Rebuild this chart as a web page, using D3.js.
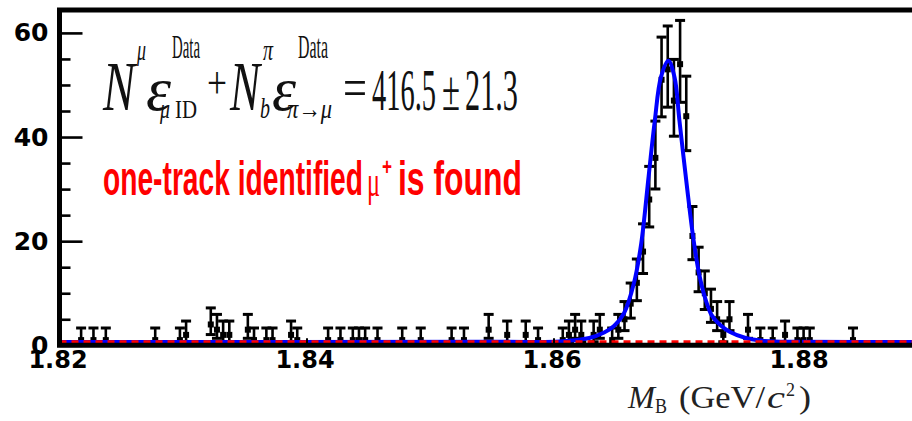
<!DOCTYPE html>
<html>
<head>
<meta charset="utf-8">
<script src="https://cdn.jsdelivr.net/npm/d3@7"></script>
<style>
  html, body { margin: 0; padding: 0; background: #ffffff; }
  svg { display: block; }
</style>
</head>
<body>
<svg id="chart" width="912" height="421"></svg>
<script>
// Beam-constrained mass: centres (GeV/c^2) of the non-empty 0.5 MeV bins and their entries
const binCenters = [
  1.82175, 1.82275, 1.82375, 1.82775, 1.82975, 1.83025, 1.83225, 1.83275, 1.83325, 1.83375,
  1.83525, 1.83575, 1.83675, 1.83725, 1.83875, 1.83925, 1.84175, 1.84275, 1.84375, 1.84425,
  1.84475, 1.84575, 1.84775, 1.84925, 1.85175, 1.85275, 1.85475, 1.85625, 1.85775, 1.85875,
  1.86075, 1.86125, 1.86175, 1.86225, 1.86325, 1.86375, 1.86475, 1.86525, 1.86575, 1.86625,
  1.86675, 1.86725, 1.86775, 1.86825, 1.86875, 1.86925, 1.86975, 1.87025, 1.87075, 1.87125,
  1.87175, 1.87225, 1.87275, 1.87325, 1.87375, 1.87425, 1.87575, 1.87675, 1.87775, 1.87875,
  1.87975, 1.88025, 1.88075, 1.88425
];
const entries = [
  1, 1, 1, 1, 1, 2, 4, 3, 2, 2,
  3, 1, 1, 1, 2, 1, 1, 1, 1, 1,
  1, 1, 1, 1, 1, 1, 3, 2, 2, 1,
  1, 2, 3, 2, 2, 3, 1, 3, 5, 8,
  12, 18, 28, 36, 51, 53, 47, 54, 44, 21,
  14, 10, 7, 5, 2, 5, 3, 1, 1, 2,
  1, 1, 1, 1
];

// Total fit (signal + flat background), entries per bin at selected masses
const fitMass = [
  1.8200, 1.8556, 1.8605, 1.8629, 1.8641, 1.8649, 1.8657, 1.8665, 1.8671, 1.8677,
  1.8682, 1.8687, 1.8693, 1.8698, 1.8702, 1.8708, 1.8713, 1.8718, 1.8723, 1.8728,
  1.8735, 1.8743, 1.8755, 1.8771, 1.8798, 1.8900
];
const fitValue = [
  0.65, 0.68, 0.73, 1.4, 2.45, 3.7, 6.1, 11.8, 19.5, 32.4,
  43.1, 51.5, 54.65, 51.5, 43.1, 30.6, 20.9, 13.6, 8.9, 5.8,
  3.9, 2.55, 1.45, 0.84, 0.66, 0.65
];
// Background component of the fit
const bkgMass = [1.82, 1.89];
const bkgValue = [0.65, 0.65];

const xTickValues = [1.82, 1.84, 1.86, 1.88];
const xTickLabels = ["1.82", "1.84", "1.86", "1.88"];
const yMajorTicks = [0, 20, 40, 60];
const yTickLabels = ["0", "20", "40", "60"];
const yMinorTicks = [5, 10, 15, 25, 30, 35, 45, 50, 55];

const svg = d3.select("#chart");

const x = d3.scaleLinear().domain([1.82, 1.89]).range([59.5, 924]);
const y = d3.scaleLinear().domain([0, 64.4]).range([345.3, 10]);

// Poisson (approximate Garwood) interval for a count n
const lowErr = n => n - Math.sqrt(n - 0.25);
const highErr = n => n + 1 + Math.sqrt(n + 0.75);

const bins = binCenters.map((m, i) => ({ m, n: entries[i] }));

// ---- error bars and markers
const pts = svg.append("g").attr("class", "data");
const capHalf = 5;
bins.forEach(d => {
  const cx = x(d.m);
  const yl = y(lowErr(d.n)), yh = y(highErr(d.n));
  pts.append("line").attr("x1", cx).attr("x2", cx).attr("y1", yl).attr("y2", yh)
    .attr("stroke", "#000").attr("stroke-width", 2.6);
  [yl, yh].forEach(yy => pts.append("line")
    .attr("x1", cx - capHalf).attr("x2", cx + capHalf).attr("y1", yy).attr("y2", yy)
    .attr("stroke", "#000").attr("stroke-width", 3));
  pts.append("rect").attr("x", cx - 3).attr("y", y(d.n) - 3)
    .attr("width", 6).attr("height", 6).attr("fill", "#000");
});

// ---- fit curves
const fitLine = d3.line()
  .x((d, i) => x(fitMass[i]))
  .y((d, i) => y(fitValue[i]))
  .curve(d3.curveCatmullRom.alpha(0.5));
svg.append("path").attr("d", fitLine(fitMass))
  .attr("fill", "none").attr("stroke", "#0000ff").attr("stroke-width", 4);

const bkgLine = d3.line()
  .x((d, i) => x(bkgMass[i]))
  .y((d, i) => y(bkgValue[i]));
svg.append("path").attr("d", bkgLine(bkgMass))
  .attr("fill", "none").attr("stroke", "#ff0000").attr("stroke-width", 3.5)
  .attr("stroke-dasharray", "7,5");

// ---- frame
svg.append("path")
  .attr("d", `M${x(1.89) + 10},${y(64.4)} H${x(1.82)} V${y(0)} H${x(1.89) + 10}`)
  .attr("fill", "none").attr("stroke", "#000").attr("stroke-width", 5);

// ---- y axis
const yMajor = d3.axisLeft(y).tickValues(yMajorTicks)
  .tickFormat((d, i) => yTickLabels[i]).tickSize(-23).tickPadding(11);
const gy = svg.append("g").attr("transform", `translate(${x(1.82)},0)`).call(yMajor);
const yMinor = d3.axisLeft(y).tickValues(yMinorTicks).tickFormat("").tickSize(-11);
const gy2 = svg.append("g").attr("transform", `translate(${x(1.82)},0)`).call(yMinor);
[gy, gy2].forEach(g => {
  g.select(".domain").remove();
  g.selectAll(".tick line").attr("stroke", "#000").attr("stroke-width", 2.6);
});
gy.selectAll(".tick text")
  .attr("fill", "#000")
  .style("font-family", "'DejaVu Sans', sans-serif")
  .style("font-weight", "bold").style("font-size", "25px");

// ---- x axis
const xAxis = d3.axisBottom(x).tickValues(xTickValues)
  .tickFormat((d, i) => xTickLabels[i]).tickSize(-7).tickPadding(6);
const gx = svg.append("g").attr("transform", `translate(0,${y(0)})`).call(xAxis);
gx.select(".domain").remove();
gx.selectAll(".tick line").attr("stroke", "#000").attr("stroke-width", 2);
gx.selectAll(".tick text")
  .attr("fill", "#000").attr("dx", "-2")
  .style("font-family", "'DejaVu Sans', sans-serif")
  .style("font-weight", "bold").style("font-size", "24px");

// Writes a run of absolutely placed, width-fitted pieces into one <text>
function placePieces(textSel, parts) {
  parts.forEach(p => {
    const ts = textSel.append("tspan").attr("x", p.x).attr("y", p.y)
      .attr("textLength", p.w).attr("lengthAdjust", "spacingAndGlyphs")
      .style("font-size", p.s + "px").text(p.t);
    if (p.it) ts.style("font-style", "italic");
    if (p.f) ts.style("font-family", p.f);
    if (p.b) ts.style("font-weight", "bold");
  });
}

const serif = "'Liberation Serif', 'Times New Roman', serif";
const sans = "'Liberation Sans', Arial, sans-serif";

// ---- axis title  M_B (GeV/c^2)
const titleParts = [
  { t: "M", x: 628, y: 408, s: 31, w: 27, it: true },
  { t: "B", x: 655, y: 413, s: 21, w: 12 },
  { t: "(GeV/", x: 679, y: 408, s: 31, w: 86 },
  { t: "c", x: 767, y: 408, s: 31, w: 18, it: true },
  { t: "2", x: 786, y: 396, s: 19, w: 9 },
  { t: ")", x: 799, y: 408, s: 31, w: 12 }
];
placePieces(svg.append("text").attr("fill", "#222").style("font-family", serif), titleParts);

// ---- yield formula
const formulaParts = [
  { t: "N",     x: 103, y: 110, s: 70, w: 32, it: true },
  { t: "\u03bc", x: 137, y: 60,  s: 30, w: 9,  it: true },
  { t: "\u03b5", x: 146, y: 110, s: 62, w: 25, it: true },
  { t: "Data",  x: 172, y: 58,  s: 33, w: 28 },
  { t: "\u03bc", x: 160, y: 118, s: 27, w: 10, it: true },
  { t: "ID",    x: 175, y: 118, s: 26, w: 22 },
  { t: "+",     x: 207, y: 98,  s: 46, w: 20 },
  { t: "N",     x: 230, y: 110, s: 70, w: 30, it: true },
  { t: "\u03c0", x: 263, y: 60,  s: 30, w: 10, it: true },
  { t: "b",     x: 260, y: 118, s: 30, w: 10, it: true },
  { t: "\u03b5", x: 272, y: 110, s: 62, w: 24, it: true },
  { t: "Data",  x: 298, y: 58,  s: 33, w: 30 },
  { t: "\u03c0\u2192\u03bc", x: 287, y: 118, s: 27, w: 45, it: true },
  { t: "=",     x: 343, y: 107, s: 56, w: 24 },
  { t: "416.5", x: 372, y: 110, s: 60, w: 64 },
  { t: "\u00b1", x: 442, y: 110, s: 58, w: 18 },
  { t: "21.3",  x: 465, y: 110, s: 60, w: 53 }
];
placePieces(svg.append("text").attr("fill", "#111").style("font-family", serif), formulaParts);

// ---- red caption
const captionParts = [
  { t: "one-track identified", x: 103, y: 195, s: 48, w: 260, b: true },
  { t: "\u03bc", x: 367, y: 196, s: 44, w: 13, f: serif },
  { t: "+", x: 382, y: 175, s: 24, w: 10, b: true },
  { t: "is found", x: 398, y: 195, s: 48, w: 124, b: true }
];
placePieces(svg.append("text").attr("fill", "#ff0000").style("font-family", sans), captionParts);
</script>
</body>
</html>
